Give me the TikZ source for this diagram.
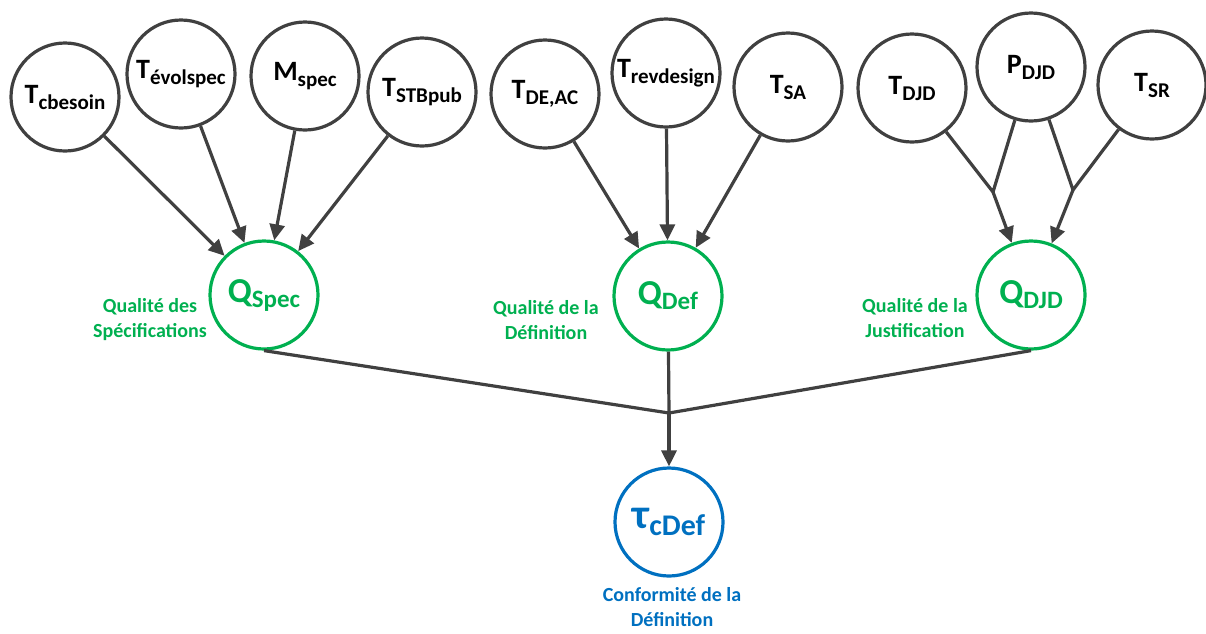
\documentclass[tikz,border=0pt]{standalone}
\usepackage{fontspec}
\setmainfont{Carlito}
\usepackage{xcolor}
\usetikzlibrary{arrows.meta, positioning}
\definecolor{qgreen}{HTML}{00B050}
\definecolor{cblue}{HTML}{0070C0}
\definecolor{edgegray}{HTML}{404040}
% variable name with a lowered index
\newcommand{\vname}[2]{{\fontsize{28}{30}\selectfont #1}\raisebox{-6pt}{\fontsize{21}{24}\selectfont #2}}
\newcommand{\qname}[2]{{\fontsize{35}{36}\selectfont #1}\raisebox{-5pt}{\fontsize{25}{26}\selectfont #2}}

\begin{document}
\begin{tikzpicture}[x=1pt, y=-1pt,
  var/.style={circle, draw=edgegray, line width=3.2pt, minimum size=108pt, inner sep=0pt, font=\bfseries},
  qual/.style={var, draw=qgreen, text=qgreen},
  conf/.style={var, draw=cblue, text=cblue},
  lbl/.style={align=center, font=\bfseries\fontsize{20}{25}\selectfont},
  link/.style={draw=edgegray, line width=3.2pt},
  arr/.style={link, -{Triangle[length=16pt, width=15pt]}}]
  \useasboundingbox (0,0) rectangle (1206,633);
  % specification inputs
  \node[var] (tcb) at (65,97) {\vname{T}{cbesoin}};
  \node[var] (tevol) at (181,74) {\vname{T}{évolspec}};
  \node[var] (mspec) at (305,76) {\vname{M}{spec}};
  \node[var] (tstb) at (422,92) {\vname{T}{STBpub}};
  % definition inputs
  \node[var] (tdeac) at (545,94) {\vname{T}{DE,AC}};
  \node[var] (trev) at (666,73) {\vname{T}{revdesign}};
  \node[var] (tsa) at (788,87) {\vname{T}{SA}};
  % justification inputs
  \node[var] (tdjd) at (912,88) {\vname{T}{DJD}};
  \node[var] (pdjd) at (1031,67) {\vname{P}{DJD}};
  \node[var] (tsr) at (1152,85) {\vname{T}{SR}};
  % quality nodes
  \node[qual] (qspec) at (264,295) {\qname{Q}{Spec}};
  \node[qual] (qdef) at (668,296) {\qname{Q}{Def}};
  \node[qual] (qdjd) at (1031,295) {\qname{Q}{DJD}};
  \node[lbl, text=qgreen] (lspec) at (150,320) {Qualité des\\Spécifications};
  \node[lbl, text=qgreen] (ldef) at (546,320) {Qualité de la\\Définition};
  \node[lbl, text=qgreen] (ldjd) at (915,318) {Qualité de la\\Justification};
  % conformity
  \node[conf] (tau) at (669,522) {{\fontsize{42}{44}\selectfont τ}\raisebox{-7pt}{\fontsize{30}{32}\selectfont cDef}};
  \node[lbl, text=cblue] (lconf) at (672,607) {Conformité de la\\Définition};
  % arrows into the quality nodes
  \foreach \src in {tcb, tevol, mspec, tstb}
    \draw[arr] (\src) -- (qspec);
  \foreach \src in {tdeac, trev, tsa}
    \draw[arr] (\src) -- (qdef);
  \coordinate (jleft) at (993,192);
  \coordinate (jright) at (1073,190);
  \draw[link] (tdjd) -- (jleft) -- (pdjd);
  \draw[link] (pdjd) -- (jright) -- (tsr);
  \draw[arr] (jleft) -- (qdjd);
  \draw[arr] (jright) -- (qdjd);
  % merge into conformity
  \coordinate (jmid) at (669,413);
  \draw[link] (qspec.south) -- (jmid) -- (qdjd.south);
  \draw[link] (qdef) -- (jmid);
  \draw[arr] (jmid) -- (tau);
\end{tikzpicture}
\end{document}
